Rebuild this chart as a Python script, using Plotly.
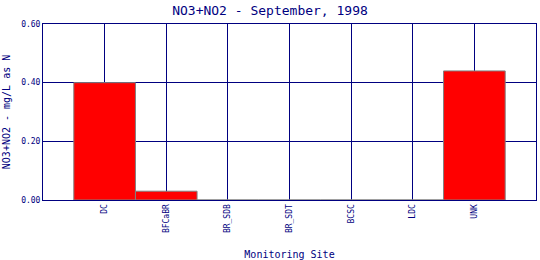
import plotly.graph_objects as go

sites = ["DC", "BFCaBR", "BR_SDB", "BR_SDT", "BCSC", "LDC", "UNK"]
values = [0.40, 0.03, 0.0, 0.0, 0.0, 0.0, 0.44]
y_ticks = [0.0, 0.2, 0.4, 0.6]
y_tick_labels = ["0.00", "0.20", "0.40", "0.60"]

navy = "#000080"
font_family = "DejaVu Sans Mono"

fig = go.Figure(
    go.Bar(
        x=list(range(len(sites))),
        y=values,
        width=1.0,
        marker=dict(color="#ff0000", line=dict(color="#808080", width=1)),
    )
)

fig.update_layout(
    width=540,
    height=260,
    margin=dict(l=43, r=4, t=24, b=60, autoexpand=False),
    paper_bgcolor="white",
    plot_bgcolor="white",
    showlegend=False,
    title=dict(
        text="NO3+NO2 - September, 1998",
        x=0.5, xanchor="center", y=1 - 10 / 260, yanchor="middle",
        font=dict(family=font_family, size=13, color=navy),
    ),
    xaxis=dict(
        range=[-1, 7],
        tickmode="array",
        tickvals=list(range(len(sites))),
        ticktext=sites,
        tickangle=-90,
        tickfont=dict(family=font_family, size=8, color=navy),
        showgrid=True, gridcolor=navy, gridwidth=1,
        showline=True, linecolor=navy, linewidth=1, mirror=True,
        ticks="", zeroline=False,
        layer="below traces",
        automargin=False,
        title=dict(text="Monitoring Site", font=dict(family=font_family, size=10, color=navy), standoff=19),
    ),
    yaxis=dict(
        range=[0, 0.6],
        tickmode="array",
        tickvals=y_ticks,
        ticktext=y_tick_labels,
        tickfont=dict(family=font_family, size=8, color=navy),
        showgrid=True, gridcolor=navy, gridwidth=1,
        showline=True, linecolor=navy, linewidth=1, mirror=True,
        ticks="", zeroline=False,
        layer="below traces",
        automargin=False,
        title=dict(text="NO3+NO2 - mg/L as N", font=dict(family=font_family, size=10, color=navy), standoff=8),
    ),
)

fig.write_html("out.html")
